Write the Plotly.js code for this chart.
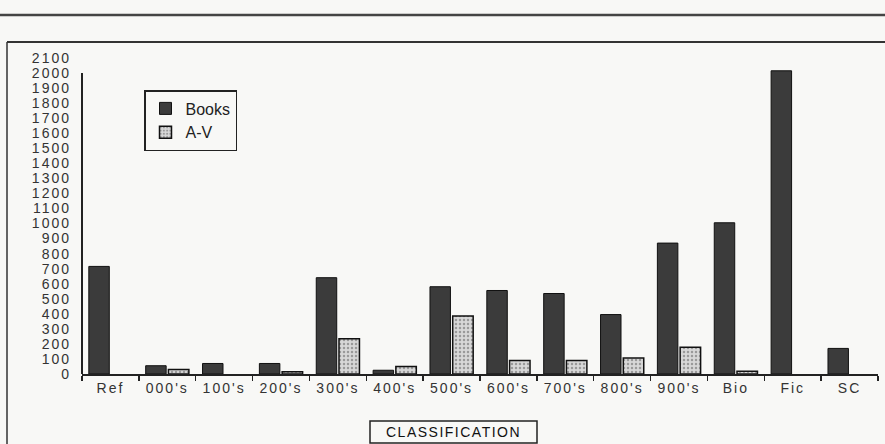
<!DOCTYPE html>
<html>
<head>
<meta charset="utf-8">
<script src="https://cdn.plot.ly/plotly-3.0.1.min.js"></script>
<style>
  html, body { margin:0; padding:0; background:#f8f8f6; }
  #chart { width:885px; height:444px; }
  .ytick text, .xtick text { letter-spacing: 2px; }
  .annotation-text { letter-spacing: 1.5px; }
</style>
</head>
<body>
<div id="chart"></div>
<script>
const categories = ["Ref","000's","100's","200's","300's","400's","500's","600's","700's","800's","900's","Bio","Fic","SC"];
const books = [715, 55, 70, 70, 640, 25, 580, 555, 535, 395, 870, 1005, 2015, 170];
const av    = [0, 30, 0, 15, 235, 50, 385, 90, 90, 106, 178, 18, 0, 0];
const yTicks = [0,100,200,300,400,500,600,700,800,900,1000,1100,1200,1300,1400,1500,1600,1700,1800,1900,2000,2100];

const L = 82, R = 878, T = 58, B = 374;
const px = x => (x - L) / (R - L);
const py = y => (B - y) / (B - T);
const shown = vals => vals.map(v => v > 0 ? v : null);

const traces = [
  { type:'bar', name:'Books', x:categories, y:shown(books),
    marker:{ color:'#3b3b3b', line:{color:'#111', width:1} } },
  { type:'bar', name:'A-V', x:categories, y:shown(av),
    marker:{ color:'#d4d4d4', line:{color:'#111', width:1.5},
      pattern:{ shape:'.', fgcolor:'#9a9a9a', bgcolor:'#d8d8d8', size:4, solidity:0.3 } } }
];

const layout = {
  width:885, height:444,
  margin:{ l:L, r:885-R, t:T, b:444-B },
  paper_bgcolor:'#f8f8f6', plot_bgcolor:'#f8f8f6',
  font:{ family:'Liberation Sans, Arial, sans-serif', color:'#222', size:14 },
  barmode:'group', bargap:0.2, bargroupgap:0.1,
  showlegend:true,
  legend:{ x:px(144), y:py(90), xanchor:'left', yanchor:'top',
    bgcolor:'#f8f8f6', bordercolor:'#222', borderwidth:1.5,
    font:{ size:16, color:'#222' }, itemwidth:30 },
  xaxis:{ type:'category', showline:true, linecolor:'#222', linewidth:2,
    ticks:'outside', tickson:'boundaries', ticklen:5, tickcolor:'#222', tickwidth:1.5,
    showgrid:false, zeroline:false, tickfont:{ size:14, color:'#333' } },
  yaxis:{ range:[0,2100], tickvals:yTicks, ticktext:yTicks.map(String),
    showline:false, ticks:'', ticklabelstandoff:10,
    showgrid:false, zeroline:false, tickfont:{ size:14, color:'#333' } },
  annotations:[
    { text:'CLASSIFICATION', xref:'paper', yref:'paper', x:px(453.5), y:py(432),
      xanchor:'center', yanchor:'middle',
      showarrow:false, font:{ size:14, color:'#111' } }
  ],
  shapes:[
    { type:'line', xref:'paper', yref:'paper', x0:px(0), x1:px(885), y0:py(15), y1:py(15),
      line:{ color:'#444', width:2.5 } },
    { type:'line', xref:'paper', yref:'paper', x0:px(7), x1:px(885), y0:py(42), y1:py(42),
      line:{ color:'#333', width:2 } },
    { type:'line', xref:'paper', yref:'paper', x0:px(7), x1:px(7), y0:py(42), y1:py(444),
      line:{ color:'#333', width:1.5 } },
    { type:'line', xref:'paper', yref:'y', x0:0, x1:0, y0:0, y1:2000,
      line:{ color:'#222', width:2 } },
    { type:'rect', xref:'paper', yref:'paper', x0:px(370), x1:px(537), y0:py(421), y1:py(443),
      line:{ color:'#222', width:1.5 } }
  ]
};

Plotly.newPlot('chart', traces, layout, { displayModeBar:false, staticPlot:true });
</script>
</body>
</html>
